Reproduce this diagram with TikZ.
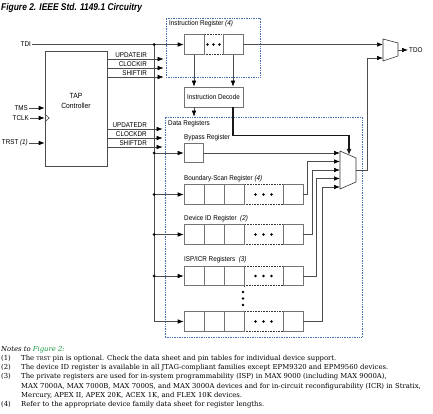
\documentclass[tikz,border=0pt]{standalone}
\usepackage{fontspec}
\setmainfont{Liberation Serif}
\newfontfamily\labfont{Liberation Sans}[FakeStretch=0.9]
\newfontfamily\titlefont{Liberation Sans}[FakeStretch=0.86]
\newfontfamily\notefont{DejaVu Serif}
\usepackage{tikz}
\usetikzlibrary{arrows.meta}
\definecolor{boxblue}{RGB}{70,110,180}
\definecolor{notegreen}{RGB}{20,150,60}
% one register row: cells a,b,c, dotted part d, last cell e
\newcommand{\regrow}[2]{\node[dotcell] (#1d) at (263.5,#2) {}; \node[cell] (#1a) at (194,#2) {}; \node[cell] (#1b) at (214,#2) {}; \node[cell] (#1c) at (234,#2) {}; \node[cell] (#1e) at (293,#2) {}; \fill (#1d.center) circle (1.3) ++(-8,0) circle (1.3) ++(16,0) circle (1.3);}
% one control line out of the TAP controller
\newcommand{\tapsig}[3]{\draw[arr, shorten >=2pt] (tap.east |- 0,#1) -- (#2.west |- 0,#1); \node[anchor=base east, inner sep=0pt] (lbl#3) at (147,#1-1.6) {#3};}

\begin{document}
\begin{tikzpicture}[x=1pt, y=-1pt,
    every node/.style={font=\labfont\fontsize{7}{8}\selectfont},
    cell/.style={draw=black!55, fill=white, line width=0.6pt, minimum width=20pt, minimum height=19.5pt, inner sep=0pt},
    dotcell/.style={draw=black!80, densely dotted, line width=0.6pt, minimum width=39pt, minimum height=19.5pt, inner sep=0pt},
    regbox/.style={draw=boxblue, densely dotted, line width=0.7pt, inner sep=0pt},
    wire/.style={draw=black!70, line width=0.6pt},
    arr/.style={wire, -{Latex[length=6pt, width=4.5pt, color=black]}},
    thickwire/.style={draw=black!90, line width=1.4pt, -{Latex[length=6pt, width=5pt]}},
    jdot/.style={circle, fill=black, inner sep=0pt, minimum size=3pt},
    note/.style={anchor=base west, inner sep=0pt, font=\notefont\fontsize{6.85}{9}\selectfont}]
    \useasboundingbox (0,0) rectangle (433,414);

    % title
    \node[anchor=west, inner sep=0pt, font=\titlefont\bfseries\itshape\fontsize{9.8}{11}\selectfont] (title) at (1,7.5) {Figure 2. IEEE Std. 1149.1 Circuitry};

    % dashed groups
    \node[regbox, minimum width=94pt, minimum height=59pt] (irbox) at (213,47.5) {};
    \node[regbox, minimum width=197pt, minimum height=220pt] (drbox) at (263.5,227) {};
    \node[anchor=base west, inner sep=0pt] (irlbl) at (169,25.5) {Instruction Register \textit{(4)}};
    \node[anchor=base west, inner sep=0pt] (drlbl) at (168,125.5) {Data Registers};

    % instruction register
    \node[dotcell, minimum width=19pt] (ird) at (213.5,44.5) {};
    \node[cell] (ir1) at (194,44.5) {};
    \node[cell] (ir2) at (233,44.5) {};
    \fill (ird.center) circle (1.3) ++(-6,0) circle (1.3) ++(12,0) circle (1.3);
    \node[cell, minimum width=59pt, minimum height=20pt] (dec) at (213.5,97) {Instruction Decode};

    % TAP controller
    \node[draw=black!70, line width=0.6pt, minimum width=62pt, minimum height=115pt, align=center, font=\labfont\fontsize{7.5}{10}\selectfont] (tap) at (76,108.5) {TAP\\Controller\\[5pt]};
    \draw[wire] (tap.west |- 0,114) -- ++(4.5,4) -- ++(-4.5,4);
    \node[anchor=east, inner sep=1pt] (tms) at (29,108) {TMS};
    \node[anchor=east, inner sep=1pt] (tclk) at (30,118) {TCLK};
    \node[anchor=east, inner sep=1pt] (trst) at (29,143) {TRST \textit{(1)}};
    \draw[arr] (tms.east) -- (tms.east -| tap.west);
    \draw[arr] (tclk.east) -- (tclk.east -| tap.west);
    \draw[arr] (trst.east) -- (trst.east -| tap.west);
    \tapsig{59}{irbox}{UPDATEIR}
    \tapsig{68}{irbox}{CLOCKIR}
    \tapsig{77}{irbox}{SHIFTIR}
    \tapsig{129}{drbox}{UPDATEDR}
    \tapsig{138}{drbox}{CLOCKDR}
    \tapsig{147}{drbox}{SHIFTDR}

    % data registers
    \node[anchor=base west, inner sep=0pt] (byplbl) at (184,139.5) {Bypass Register};
    \node[cell, minimum width=19pt] (byp) at (193.5,153) {};
    \node[anchor=base west, inner sep=0pt] (bslbl) at (184,180.5) {Boundary-Scan Register \textit{(4)}};
    \regrow{bs}{194.5}
    \node[anchor=base west, inner sep=0pt] (idlbl) at (184,220.5) {Device ID Register \ \textit{(2)}};
    \regrow{id}{234.5}
    \node[anchor=base west, inner sep=0pt] (isplbl) at (184,261.5) {ISP/ICR Registers \ \textit{(3)}};
    \regrow{isp}{276}
    \regrow{usr}{321.5}
    \fill (243,292) circle (1.3) (243,298.5) circle (1.3) (243,305) circle (1.3);

    % TDI and its bus
    \node[anchor=east, inner sep=1pt] (tdi) at (32,44.5) {TDI};
    \coordinate (bus) at (154,44.5);
    \draw[arr] (tdi.east) -- (ir1.west);
    \draw[wire] (bus) -- (bus |- usra.west);
    \draw[arr] (bus |- byp.west) -- (byp.west);
    \draw[arr] (bus |- bsa.west) -- (bsa.west);
    \draw[arr] (bus |- ida.west) -- (ida.west);
    \draw[arr] (bus |- ispa.west) -- (ispa.west);
    \draw[arr] (bus |- usra.west) -- (usra.west);
    \foreach \r in {ir1,byp,bsa,ida,ispa}
        \node[jdot] (dot\r) at (bus |- \r.west) {};

    % decode
    \draw[arr] (ir1.south) -- (ir1.south |- dec.north);
    \draw[arr] (ir2.south) -- (ir2.south |- dec.north);
    \draw[arr] (dec.south -| ir1) -- (ir1 |- drbox.north);

    % output mux
    \draw[draw=black!80, line width=0.6pt, fill=white] (340,151) -- (356,158) -- (356,182) -- (340,189) -- cycle;
    \coordinate (mi1) at (340,153);
    \coordinate (mi2) at (340,161.5);
    \coordinate (mi3) at (340,170);
    \coordinate (mi4) at (340,178.5);
    \coordinate (mi5) at (340,187);
    \coordinate (msel) at (349,155);
    \coordinate (mout) at (356,170);
    \draw[arr] (byp.east) -- (mi1);
    \draw[arr] (bse.east) -- ++(4,0) |- (mi2);
    \draw[arr] (ide.east) -- ++(9,0) |- (mi3);
    \draw[arr] (ispe.east) -- ++(13,0) |- (mi4);
    \draw[arr] (usre.east) -- ++(19,0) |- (mi5);
    \draw[thickwire] (dec.south -| ir2) -- ++(0,28) -| (msel);

    % TDO mux
    \draw[draw=black!80, line width=0.6pt, fill=white] (383,39) -- (398,43) -- (398,56) -- (383,61) -- cycle;
    \coordinate (ti1) at (383,44.5);
    \coordinate (ti2) at (383,58);
    \coordinate (tout) at (398,50);
    \node[anchor=west, inner sep=1pt] (tdo) at (408,50) {TDO};
    \draw[arr] (ir2.east) -- (ti1);
    \draw[arr] (mout) -- ++(11,0) |- (ti2);
    \draw[arr] (tout) -- (tdo.west);

    % notes
    \node[note] (nhead) at (1,351) {\itshape Notes to \textcolor{notegreen}{Figure 2:}};
    \node[note] (n1) at (1,360.5) {(1)};
    \node[note] (t1) at (21,360.5) {The {\fontsize{5.1}{6}\selectfont TRST} pin is optional. Check the data sheet and pin tables for individual device support.};
    \node[note] (n2) at (1,369.5) {(2)};
    \node[note] (t2) at (21,369.5) {The device ID register is available in all JTAG-compliant families except EPM9320 and EPM9560 devices.};
    \node[note] (n3) at (1,378.5) {(3)};
    \node[note] (t3) at (21,378.5) {The private registers are used for in-system programmability (ISP) in MAX 9000 (including MAX 9000A),};
    \node[note] (t3b) at (21,388) {MAX 7000A, MAX 7000B, MAX 7000S, and MAX 3000A devices and for in-circuit reconfigurability (ICR) in Stratix,};
    \node[note] (t3c) at (21,397) {Mercury, APEX II, APEX 20K, ACEX 1K, and FLEX 10K devices.};
    \node[note] (n4) at (1,406.5) {(4)};
    \node[note] (t4) at (21,406.5) {Refer to the appropriate device family data sheet for register lengths.};
\end{tikzpicture}
\end{document}
